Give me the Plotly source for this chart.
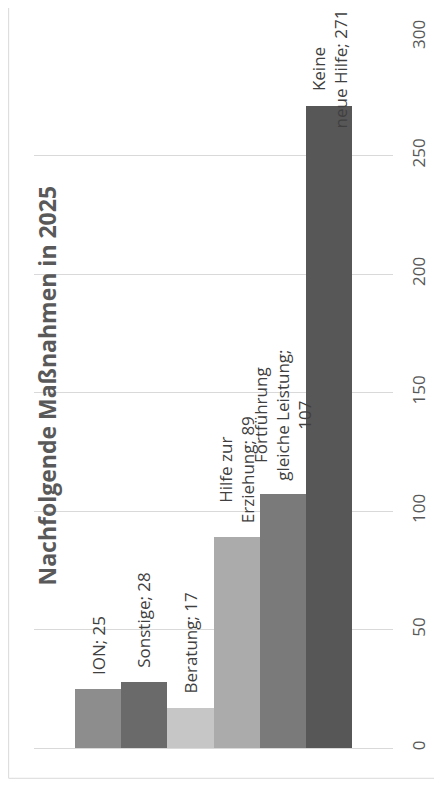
import plotly.graph_objects as go

categories = ["ION", "Sonstige", "Beratung", "Hilfe zur Erziehung",
              "Fortführung gleiche Leistung", "Keine neue Hilfe"]
values = [25, 28, 17, 89, 107, 271]
label_texts = ["ION; 25", "Sonstige; 28", "Beratung; 17",
               "Hilfe zur<br>Erziehung; 89",
               "Fortführung<br>gleiche Leistung;<br>107",
               "Keine<br>neue Hilfe; 271"]
y_ticks = [0, 50, 100, 150, 200, 250, 300]
title_text = "Nachfolgende Maßnahmen in 2025"

bar_colors = ["#8d8d8d", "#6a6a6a", "#c6c6c6", "#ababab", "#7a7a7a", "#575757"]
label_shift = [12, 12, 12, 12, 12, -25]

FONT = "Open Sans"
OFF = 8  # page body margin
W, H = 442 - OFF, 791 - OFF
ML, MR, MT, MB = 34 - OFF, 47, 32 - OFF, 43
pw, ph = W - ML - MR, H - MT - MB
PLOT_BOTTOM = 748  # absolute page px

fig = go.Figure()
fig.add_trace(go.Bar(
    x=categories, y=values,
    marker=dict(color=bar_colors, line=dict(width=0)),
    width=1.0, showlegend=False, hoverinfo="x+y",
))

for cat, val, txt, sh in zip(categories, values, label_texts, label_shift):
    fig.add_annotation(
        x=cat, y=val, xref="x", yref="y", text=txt, showarrow=False,
        textangle=-90, xanchor="center", yanchor="bottom", yshift=sh,
        align="center", font=dict(family=FONT, size=17, color="#404040"),
    )

# Title (vertical)
fig.add_annotation(
    x=(47 - 34) / pw, y=(PLOT_BOTTOM - 383) / ph, xref="paper", yref="paper",
    text="<b>" + title_text + "</b>", showarrow=False, textangle=-90,
    xanchor="center", yanchor="middle",
    font=dict(family=FONT, size=23, color="#595959"),
)

# Chart border (only left and bottom visible in the crop)
fig.add_shape(
    type="rect", xref="paper", yref="paper",
    x0=(8.5 - 34) / pw, x1=(460 - 34) / pw,
    y0=-(778.5 - PLOT_BOTTOM) / ph, y1=1 + 40 / ph,
    line=dict(color="#d9d9d9", width=1), fillcolor="rgba(0,0,0,0)", layer="below",
)

fig.update_layout(
    width=W, height=H,
    margin=dict(l=ML, r=MR, t=MT, b=MB, pad=0),
    paper_bgcolor="white", plot_bgcolor="white",
    bargap=0, showlegend=False,
    font=dict(family=FONT, color="#595959"),
    xaxis=dict(
        type="category", range=[-1.38, 6.38], showticklabels=False,
        showgrid=False, zeroline=False, showline=False, ticks="",
        fixedrange=True,
    ),
    yaxis=dict(
        range=[0, 300], side="right", tickvals=y_ticks,
        ticktext=[str(v) for v in y_ticks], tickangle=-90,
        showgrid=True, gridcolor="#d9d9d9", gridwidth=1,
        zeroline=True, zerolinecolor="#d9d9d9", zerolinewidth=1,
        showline=False, ticks="", ticklabelstandoff=14,
        tickfont=dict(family=FONT, size=17, color="#595959"),
        fixedrange=True,
    ),
)

fig.write_html("out.html")
